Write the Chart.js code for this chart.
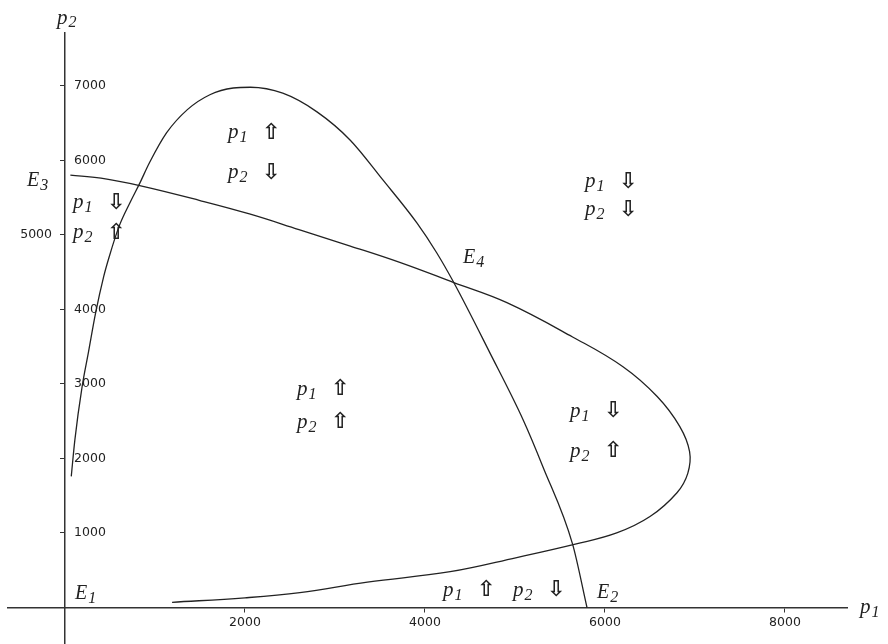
<!DOCTYPE html>
<html><head><meta charset="utf-8">
<script src="https://cdn.jsdelivr.net/npm/chart.js@4/dist/chart.umd.min.js"></script>
<style>html,body{margin:0;padding:0;background:#fff;}#wrap{width:888px;height:644px;}</style>
</head><body><div id="wrap"><canvas id="c" width="888" height="644"></canvas></div>
<script>
// Curve A (hump-shaped isocline): p1 values and p2 values
const curveA_p1 = [70, 110, 190, 260, 340, 430, 490, 600, 730, 830, 940, 1130, 1360, 1610, 1870, 2060, 2420, 2800, 3170, 3530, 3910, 4130, 4320, 4720, 5090, 5310, 5640, 5800];
const curveA_p2 = [1760, 2250, 2960, 3420, 3950, 4440, 4700, 5110, 5450, 5690, 5970, 6370, 6680, 6880, 6970, 6980, 6900, 6650, 6270, 5740, 5160, 4760, 4360, 3420, 2520, 1890, 850, 0];
// Curve B (loop-shaped isocline), in drawing order
const curveB_p1 = [60, 400, 830, 1500, 2050, 2600, 3170, 3720, 4320, 4910, 5640, 6200, 6580, 6830, 6940, 6920, 6800, 6500, 6130, 5670, 5020, 4280, 3360, 2610, 2000, 1190];
const curveB_p2 = [5800, 5760, 5660, 5460, 5280, 5070, 4850, 4630, 4360, 4090, 3630, 3230, 2830, 2430, 2090, 1800, 1540, 1220, 1000, 850, 670, 480, 340, 200, 130, 70];
// Tick labels
const xTickValues = [2000, 4000, 6000, 8000];
const yTickValues = [1000, 2000, 3000, 4000, 5000, 6000, 7000];
const yTicksLeftOfAxis = [5000];
const yTicksRightOfAxis = [1000, 2000, 3000, 4000, 6000, 7000];
// Region labels: variable index and arrow direction, anchored at (p1, p2)
const regionLabels = [
  {p1: 1811, p2: 6367, sub: '1', arrow: 'up'},
  {p1: 1811, p2: 5831, sub: '2', arrow: 'down'},
  {p1: 89, p2: 5429, sub: '1', arrow: 'down'},
  {p1: 89, p2: 5027, sub: '2', arrow: 'up'},
  {p1: 5778, p2: 5710, sub: '1', arrow: 'down'},
  {p1: 5778, p2: 5335, sub: '2', arrow: 'down'},
  {p1: 2578, p2: 2922, sub: '1', arrow: 'up'},
  {p1: 2578, p2: 2480, sub: '2', arrow: 'up'},
  {p1: 5611, p2: 2627, sub: '1', arrow: 'down'},
  {p1: 5611, p2: 2091, sub: '2', arrow: 'up'},
  {p1: 4200, p2: 228, sub: '1', arrow: 'up'},
  {p1: 4978, p2: 228, sub: '2', arrow: 'down'}
];
// Equilibrium labels
const equilibria = [
  {sub: '1', p1: 111, p2: 188},
  {sub: '2', p1: 5911, p2: 201},
  {sub: '3', p1: -422, p2: 5724},
  {sub: '4', p1: 4422, p2: 4692}
];

const SERIF = '"Liberation Serif", "DejaVu Serif", serif';
const TICKFONT = {family: '"DejaVu Sans", sans-serif', size: 12.5};
const INK = '#222';

function drawVar(ctx, main, sub, x, y, size) {
  ctx.font = 'italic ' + size + 'px ' + SERIF;
  ctx.textBaseline = 'middle';
  ctx.textAlign = 'left';
  ctx.fillText(main, x, y);
  const w = ctx.measureText(main).width;
  ctx.font = 'italic ' + Math.round(size * 0.78) + 'px ' + SERIF;
  ctx.fillText(sub, x + w + 1, y + size * 0.25);
}

const annotatePlugin = {
  id: 'annotate',
  afterDatasetsDraw(chart) {
    const ctx = chart.ctx;
    const xs = chart.scales.x, ys = chart.scales.y;
    ctx.save();
    ctx.fillStyle = INK;
    regionLabels.forEach(l => {
      const px = xs.getPixelForValue(l.p1), py = ys.getPixelForValue(l.p2);
      drawVar(ctx, 'p', l.sub, px, py, 21);
      ctx.font = 'bold 22px "DejaVu Sans", sans-serif';
      ctx.textBaseline = 'middle';
      ctx.textAlign = 'left';
      ctx.fillText(l.arrow === 'up' ? '\u21E7' : '\u21E9', px + 34, py);
    });
    equilibria.forEach(e => {
      drawVar(ctx, 'E', e.sub, xs.getPixelForValue(e.p1), ys.getPixelForValue(e.p2), 20);
    });
    const oy = ys.getPixelForValue(0), ox = xs.getPixelForValue(0);
    drawVar(ctx, 'p', '2', ox - 8, chart.chartArea.top - 15, 21);
    drawVar(ctx, 'p', '1', chart.chartArea.right + 13, oy, 21);
    ctx.restore();
  }
};

const labelScale = (pos, values) => ({
  axis: 'y', type: 'linear', position: {x: pos}, min: -483, max: 7708,
  afterBuildTicks: s => { s.ticks = values.map(v => ({value: v})); },
  grid: {display: false, drawTicks: false},
  border: {display: false},
  ticks: {font: TICKFONT, color: '#222', padding: -7, autoSkip: false, callback: v => String(v)}
});

new Chart(document.getElementById('c'), {
  type: 'scatter',
  data: {
    datasets: [
      {data: curveA_p1.map((v, i) => ({x: v, y: curveA_p2[i]})), showLine: true, borderColor: INK, borderWidth: 1.3, pointRadius: 0, cubicInterpolationMode: 'monotone', fill: false},
      {data: curveB_p1.map((v, i) => ({x: v, y: curveB_p2[i]})), showLine: true, borderColor: INK, borderWidth: 1.3, pointRadius: 0, tension: 0.4, fill: false}
    ]
  },
  options: {
    responsive: false,
    animation: false,
    devicePixelRatio: 1,
    layout: {padding: {left: 8, right: 41, top: 33, bottom: 0}},
    plugins: {legend: {display: false}, tooltip: {enabled: false}},
    scales: {
      x: {
        type: 'linear', position: {y: 0}, min: -633, max: 8689,
        afterBuildTicks: s => { s.ticks = xTickValues.map(v => ({value: v})); },
        grid: {drawOnChartArea: false, drawTicks: true, tickLength: 4, color: '#333'},
        border: {display: true, color: '#333', width: 1.5},
        ticks: {font: TICKFONT, color: '#222', padding: 4, maxRotation: 0, autoSkip: false, callback: v => String(v)}
      },
      y: {
        type: 'linear', position: {x: 0}, min: -483, max: 7708,
        afterBuildTicks: s => { s.ticks = yTickValues.map(v => ({value: v})); },
        grid: {drawOnChartArea: false, drawTicks: true, tickLength: 4, color: '#333'},
        border: {display: true, color: '#333', width: 1.5},
        ticks: {display: false}
      },
      yLabelsLeft: labelScale(-144, yTicksLeftOfAxis),
      yLabelsRight: labelScale(455, yTicksRightOfAxis)
    }
  },
  plugins: [annotatePlugin]
});
</script></body></html>
